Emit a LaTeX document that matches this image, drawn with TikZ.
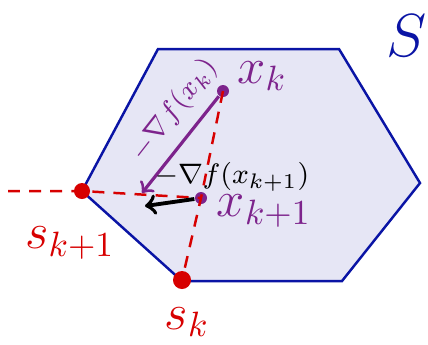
\documentclass[tikz,border=0pt]{standalone}
\usepackage{amsmath,amssymb}
\usepackage{xcolor}
\usepackage{tikz}
\usetikzlibrary{positioning}
\definecolor{hexblue}{RGB}{10,20,165}
\definecolor{hexfill}{RGB}{230,230,245}
\definecolor{fwpurple}{RGB}{125,35,140}
\definecolor{fwred}{RGB}{215,0,0}

\begin{document}
\begin{tikzpicture}[x=0.01cm, y=-0.01cm,
        reddash/.style={fwred, line width=0.7pt, dash pattern=on 3.4pt off 2.6pt},
        reddot/.style={circle, fill=fwred, inner sep=0pt, minimum size=1.6mm},
        purpledot/.style={circle, fill=fwpurple, inner sep=0pt, minimum size=1.2mm}]
        \useasboundingbox (0,0) rectangle (428,344);
        % feasible set
        \draw[hexblue, fill=hexfill, line width=0.7pt] (158,49) -- (339,49) -- (420,183) -- (342,281) -- (182,281) -- (82,191) -- cycle;
        \node[hexblue, font=\LARGE] (setS) at (407,36) {$S$};
        % points
        \node[reddot] (sk1) at (82,191) {};
        \node[reddot, minimum size=1.8mm] (sk) at (182,280) {};
        \node[purpledot] (xk) at (223,91) {};
        \node[purpledot] (xk1) at (201,198) {};
        \coordinate (left) at (8,191);
        \coordinate (tip) at (142,193);
        \coordinate (tipb) at (145,206);
        % dashed lines to the vertices
        \draw[reddash] (left) -- (sk1.center) -- (xk1.center);
        \draw[reddash] (xk.center) -- (xk1.center) -- (sk.center);
        % gradient steps
        \draw[->, fwpurple, line width=0.9pt] (xk) -- (tip);
        \draw[->, black, line width=1.1pt] (xk1) -- (tipb);
        % labels
        \node[fwpurple, font=\Large] (xklab) at (262,76) {$x_k$};
        \node[fwpurple, font=\Large] (xk1lab) at (264,211) {$x_{k+1}$};
        \node[fwpurple, font=\footnotesize, rotate=52] (gradk) at (174,110) {$-\nabla f(x_k)$};
        \node[black, font=\footnotesize] (gradk1) at (232,177) {$-\nabla f(x_{k+1})$};
        \node[fwred, font=\Large] (sk1lab) at (70,243) {$s_{k+1}$};
        \node[fwred, font=\Large] (sklab) at (187,322) {$s_k$};
    \end{tikzpicture}
\end{document}
